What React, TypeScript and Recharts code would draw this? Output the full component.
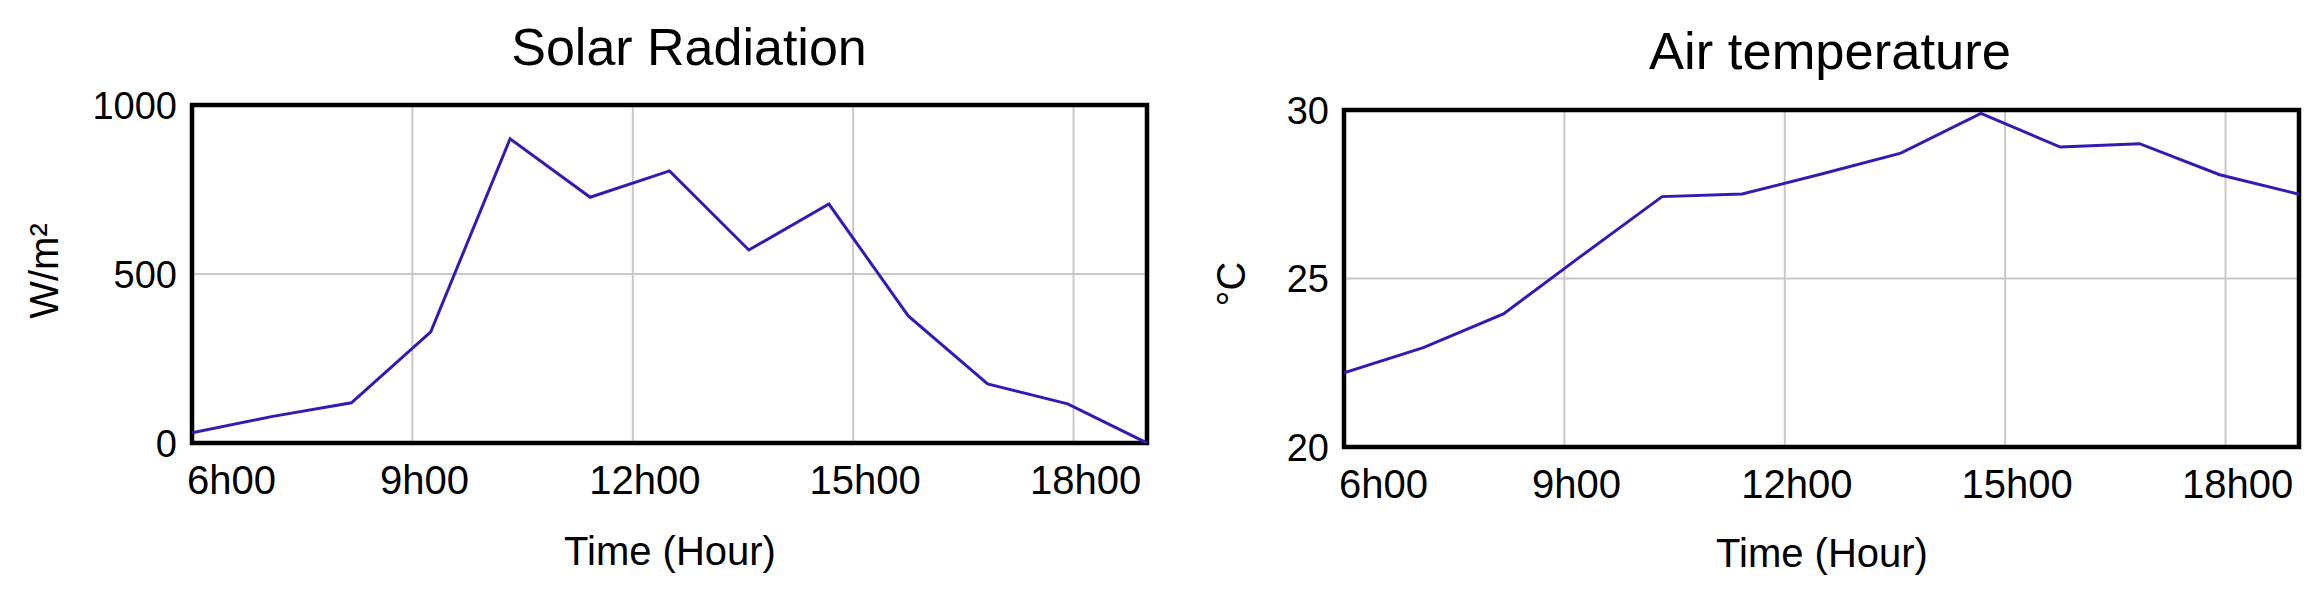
import { LineChart, Line, XAxis, YAxis, CartesianGrid, ReferenceArea } from 'recharts'

// readings every ~65 min from 6h00 to 19h00
const HOURS = [6, 7.08, 8.17, 9.25, 10.33, 11.42, 12.5, 13.58, 14.67, 15.75, 16.83, 17.92, 19]
const SOLAR = [30, 78, 119, 329, 900, 727, 805, 571, 707, 376, 175, 116, 0]
const AIR_TEMP = [22.2, 22.95, 23.95, 25.7, 27.43, 27.51, 28.1, 28.72, 29.9, 28.9, 29.0, 28.08, 27.5]

const HOUR_TICKS = [6, 9, 12, 15, 18]
const SOLAR_TICKS = [0, 500, 1000]
const TEMP_TICKS = [20, 25, 30]

const FONT = '"Liberation Sans", Arial, sans-serif'
const LINE_COLOR = '#3618b4'
const GRID_COLOR = '#c8c8c8'

interface PanelProps {
  values: number[]
  yDomain: [number, number]
  yTicks: number[]
  width: number
  plotLeft: number
  plotRight: number
  plotTop: number
  plotBottom: number
}

function Panel({ values, yDomain, yTicks, width, plotLeft, plotRight, plotTop, plotBottom }: PanelProps) {
  const height = 592
  const rows = HOURS.map((h, i) => ({ hour: h, value: values[i] }))

  const xTick = (props: any) => {
    const first = props.index === 0
    return (
      <text
        x={first ? props.x - 5 : props.x + 12}
        y={plotBottom + 51}
        textAnchor={first ? 'start' : 'middle'}
        fontSize={40}
        fontFamily={FONT}
        fill="#000"
      >
        {`${props.payload.value}h00`}
      </text>
    )
  }

  const yTick = (props: any) => (
    <text
      x={plotLeft - 15}
      y={props.y}
      dy="0.36em"
      textAnchor="end"
      fontSize={38}
      fontFamily={FONT}
      fill="#000"
    >
      {props.payload.value}
    </text>
  )

  return (
    <LineChart
      width={width}
      height={height}
      data={rows}
      margin={{ top: plotTop, right: width - plotRight, bottom: 0, left: 0 }}
    >
      <CartesianGrid stroke={GRID_COLOR} strokeWidth={2} />
      <XAxis
        dataKey="hour"
        type="number"
        domain={[6, 19]}
        ticks={HOUR_TICKS}
        allowDataOverflow
        axisLine={false}
        tickLine={false}
        tick={xTick}
        height={height - plotBottom}
        interval={0}
      />
      <YAxis
        type="number"
        domain={yDomain}
        ticks={yTicks}
        allowDataOverflow
        axisLine={false}
        tickLine={false}
        tick={yTick}
        width={plotLeft}
        interval={0}
      />
      <ReferenceArea
        x1={6}
        x2={19}
        y1={yDomain[0]}
        y2={yDomain[1]}
        fill="none"
        fillOpacity={0}
        stroke="#000"
        strokeWidth={4.5}
        ifOverflow="visible"
      />
      <Line
        type="linear"
        dataKey="value"
        stroke={LINE_COLOR}
        strokeWidth={3}
        dot={false}
        isAnimationActive={false}
      />
    </LineChart>
  )
}

export default function App() {
  return (
    <div style={{ position: 'absolute', left: 0, top: 0, width: 2322, height: 592, background: '#fff' }}>
      <div style={{ position: 'absolute', left: 0, top: 0 }}>
        <Panel
          values={SOLAR}
          yDomain={[0, 1000]}
          yTicks={SOLAR_TICKS}
          width={1180}
          plotLeft={192}
          plotRight={1147}
          plotTop={105}
          plotBottom={443}
        />
      </div>
      <div style={{ position: 'absolute', left: 1180, top: 0 }}>
        <Panel
          values={AIR_TEMP}
          yDomain={[20, 30]}
          yTicks={TEMP_TICKS}
          width={1142}
          plotLeft={164}
          plotRight={1119}
          plotTop={110}
          plotBottom={447}
        />
      </div>
      <svg
        width={2322}
        height={592}
        style={{ position: 'absolute', left: 0, top: 0, pointerEvents: 'none' }}
        fontFamily={FONT}
        fill="#000"
      >
        <text x={689} y={65} textAnchor="middle" fontSize={52}>Solar Radiation</text>
        <text x={1830} y={69} textAnchor="middle" fontSize={52.5}>Air temperature</text>
        <text x={670} y={565} textAnchor="middle" fontSize={40}>Time (Hour)</text>
        <text x={1822} y={567} textAnchor="middle" fontSize={40}>Time (Hour)</text>
        <text x={58} y={271} textAnchor="middle" fontSize={40} transform="rotate(-90 58 271)">W/m²</text>
        <text x={1245} y={284} textAnchor="middle" fontSize={40} transform="rotate(-90 1245 284)">°C</text>
      </svg>
    </div>
  )
}
